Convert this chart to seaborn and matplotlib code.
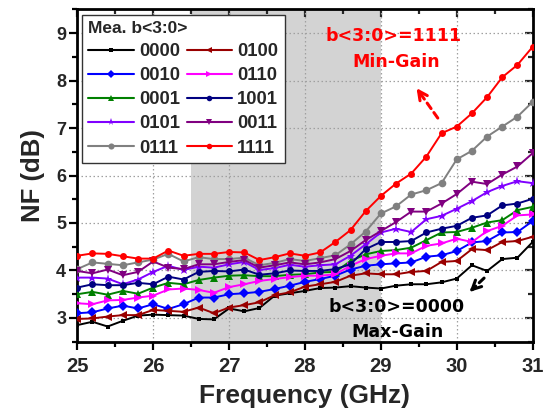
import numpy as np
import pandas as pd
import matplotlib
matplotlib.use("Agg")
import matplotlib.pyplot as plt
from matplotlib.lines import Line2D
import seaborn as sns

# Measured noise figure versus frequency for each gain code b<3:0>
freq = [25.0, 25.2, 25.4, 25.6, 25.8, 26.0, 26.2, 26.4, 26.6, 26.8,
        27.0, 27.2, 27.4, 27.6, 27.8, 28.0, 28.2, 28.4, 28.6, 28.8,
        29.0, 29.2, 29.4, 29.6, 29.8, 30.0, 30.2, 30.4, 30.6, 30.8, 31.0]

nf_0000 = [2.85, 2.92, 2.82, 2.94, 3.05, 3.07, 3.06, 3.05, 2.98, 2.97,
           3.20, 3.14, 3.21, 3.47, 3.52, 3.57, 3.63, 3.64, 3.67, 3.64,
           3.62, 3.68, 3.71, 3.71, 3.75, 3.83, 4.11, 3.99, 4.24, 4.27, 4.60]
nf_0100 = [2.98, 2.99, 3.03, 3.06, 3.06, 3.17, 3.15, 3.13, 3.22, 3.10,
           3.22, 3.27, 3.33, 3.48, 3.54, 3.66, 3.71, 3.76, 3.89, 3.94,
           3.92, 3.92, 3.97, 3.99, 4.18, 4.20, 4.45, 4.43, 4.60, 4.62, 4.71]
nf_0010 = [3.10, 3.12, 3.20, 3.26, 3.20, 3.29, 3.19, 3.29, 3.43, 3.43,
           3.50, 3.52, 3.55, 3.61, 3.68, 3.76, 3.82, 3.89, 4.02, 4.10,
           4.13, 4.15, 4.17, 4.29, 4.32, 4.41, 4.59, 4.62, 4.80, 4.81, 5.04]
nf_0110 = [3.31, 3.29, 3.37, 3.38, 3.43, 3.47, 3.60, 3.62, 3.59, 3.53,
           3.65, 3.71, 3.78, 3.82, 3.86, 3.89, 3.89, 3.92, 4.10, 4.24,
           4.31, 4.36, 4.36, 4.52, 4.57, 4.67, 4.60, 4.83, 4.94, 5.16, 5.18]
nf_0001 = [3.50, 3.55, 3.49, 3.57, 3.51, 3.64, 3.74, 3.71, 3.80, 3.85,
           3.89, 3.90, 3.88, 3.88, 3.91, 3.92, 3.96, 3.97, 4.20, 4.34,
           4.41, 4.43, 4.48, 4.64, 4.80, 4.81, 4.90, 5.01, 5.06, 5.27, 5.34]
nf_1001 = [3.64, 3.71, 3.69, 3.69, 3.74, 3.71, 3.87, 3.81, 3.97, 3.99,
           3.98, 4.02, 3.91, 3.94, 4.00, 3.99, 3.99, 4.03, 4.13, 4.45,
           4.60, 4.60, 4.62, 4.80, 4.88, 4.94, 5.11, 5.16, 5.37, 5.41, 5.51]
nf_0101 = [3.85, 3.85, 3.83, 3.71, 3.81, 3.97, 4.10, 4.01, 4.08, 4.06,
           4.13, 4.18, 4.01, 4.05, 4.12, 4.08, 4.11, 4.13, 4.31, 4.55,
           4.80, 4.88, 4.81, 5.08, 5.15, 5.30, 5.46, 5.65, 5.78, 5.88, 5.84]
nf_0011 = [3.99, 3.94, 4.02, 3.90, 3.97, 4.19, 4.06, 4.03, 4.13, 4.13,
           4.18, 4.22, 4.06, 4.11, 4.17, 4.13, 4.17, 4.24, 4.41, 4.64,
           4.83, 5.02, 5.24, 5.24, 5.41, 5.61, 5.87, 5.82, 6.02, 6.19, 6.47]
nf_0111 = [4.03, 4.17, 4.14, 4.11, 4.17, 4.23, 4.35, 4.19, 4.28, 4.24,
           4.24, 4.27, 4.11, 4.16, 4.24, 4.20, 4.26, 4.32, 4.55, 4.82,
           5.20, 5.35, 5.60, 5.69, 5.84, 6.34, 6.52, 6.82, 7.03, 7.24, 7.55]
nf_1111 = [4.31, 4.36, 4.35, 4.30, 4.25, 4.25, 4.42, 4.31, 4.35, 4.35,
           4.39, 4.38, 4.22, 4.28, 4.36, 4.31, 4.38, 4.60, 4.85, 5.25,
           5.57, 5.83, 6.04, 6.40, 6.89, 7.03, 7.31, 7.65, 8.07, 8.33, 8.71]

codes = ["0000", "0010", "0001", "0101", "0111",
         "0100", "0110", "1001", "0011", "1111"]
series = {
    "0000": nf_0000, "0100": nf_0100, "0010": nf_0010, "0110": nf_0110,
    "0001": nf_0001, "1001": nf_1001, "0101": nf_0101, "0011": nf_0011,
    "0111": nf_0111, "1111": nf_1111,
}
colors = {
    "0000": "#000000", "0100": "#990000", "0010": "#0000ff", "0110": "#ff00ff",
    "0001": "#008000", "1001": "#000080", "0101": "#8000ff", "0011": "#800080",
    "0111": "#808080", "1111": "#ff0000",
}
markers = {
    "0000": "s", "0100": "<", "0010": "D", "0110": ">", "0001": "^",
    "1001": "o", "0101": "*", "0011": "v", "0111": "o", "1111": "o",
}
msizes = {
    "0000": 3.5, "0100": 5.5, "0010": 5, "0110": 5.5, "0001": 5.5,
    "1001": 5, "0101": 6.5, "0011": 5.5, "0111": 5.5, "1111": 5,
}

df = pd.concat(
    [pd.DataFrame({"freq": freq, "nf": series[c], "code": c}) for c in codes],
    ignore_index=True,
)

sns.set_theme(style="white")
plt.rcParams["font.family"] = ["Liberation Sans", "DejaVu Sans"]
plt.rcParams["font.weight"] = "bold"

fig, ax = plt.subplots(figsize=(5.56, 4.13), dpi=100)
fig.subplots_adjust(left=0.139, right=0.958, top=0.9775, bottom=0.1726)

ax.axvspan(26.5, 29.0, color="#d3d3d3", zorder=0, lw=0)

for c in codes:
    sns.lineplot(data=df[df["code"] == c], x="freq", y="nf", ax=ax,
                 color=colors[c], marker=markers[c], markersize=msizes[c],
                 markeredgewidth=0, linewidth=1.4, legend=False, zorder=3)

ax.set_xlim(25, 31)
ax.set_ylim(2.5, 9.5)
ax.set_xticks(range(25, 32))
ax.set_yticks(range(3, 10))
ax.set_xticks(np.arange(25.5, 31, 1.0), minor=True)
ax.set_yticks(np.arange(2.5, 9.6, 1.0), minor=True)

ax.set_axisbelow(True)
ax.grid(True, which="major", color="#a0a0a0", linestyle=(0, (1.2, 2)), linewidth=0.9)

for s in ax.spines.values():
    s.set_color("black")
    s.set_linewidth(2)

ax.tick_params(which="both", direction="out", color="black", width=1.6,
               bottom=True, left=True, top=False, right=False)
ax.tick_params(which="major", length=6)
ax.tick_params(which="minor", length=3.5)
ax.tick_params(axis="x", labelsize=14.5, pad=5)
ax.tick_params(axis="y", labelsize=13, pad=2)
for lab in ax.get_xticklabels() + ax.get_yticklabels():
    lab.set_fontweight("bold")

# inward ticks on the top and right edges
sec_x = ax.secondary_xaxis("top")
sec_x.set_xticks(range(25, 32))
sec_x.set_xticks(np.arange(25.5, 31, 1.0), minor=True)
sec_x.tick_params(which="both", direction="in", width=1.6, labeltop=False)
sec_x.tick_params(which="major", length=6)
sec_x.tick_params(which="minor", length=3.5)
sec_x.spines["top"].set_visible(False)
sec_y = ax.secondary_yaxis("right")
sec_y.set_yticks(range(3, 10))
sec_y.set_yticks(np.arange(2.5, 9.6, 1.0), minor=True)
sec_y.tick_params(which="both", direction="in", width=1.6, labelright=False)
sec_y.tick_params(which="major", length=6)
sec_y.tick_params(which="minor", length=3.5)
sec_y.spines["right"].set_visible(False)

ax.set_xlabel("Frequency (GHz)", fontsize=19, fontweight="bold", labelpad=6)
ax.set_ylabel("NF (dB)", fontsize=18.5, fontweight="bold", labelpad=8)

handles = [Line2D([], [], color=colors[c], marker=markers[c],
                  markersize=msizes[c] * 0.8, markeredgewidth=0, linewidth=1.5)
           for c in codes]
leg = ax.legend(handles, codes, ncol=2, loc="upper left",
                bbox_to_anchor=(0.01, 0.983), borderaxespad=0,
                title="Mea. b<3:0>", fontsize=13.3,
                title_fontproperties={"weight": "bold", "size": 12.5},
                frameon=True, fancybox=False, framealpha=1,
                edgecolor="#333333", handlelength=2.45, handletextpad=0.3,
                columnspacing=0.35, labelspacing=0.38, borderpad=0.35)
leg._legend_box.align = "left"
leg.get_frame().set_linewidth(1.0)
for t in leg.get_texts():
    t.set_fontweight("bold")
leg.set_zorder(5)

ann_font = ["DejaVu Sans"]
ax.text(29.17, 8.94, "b<3:0>=1111", color="#ff0000", fontsize=12.5,
        fontweight="bold", family=ann_font, ha="center", va="center", zorder=6)
ax.text(29.2, 8.39, "Min-Gain", color="#ff0000", fontsize=12.5,
        fontweight="bold", family=ann_font, ha="center", va="center", zorder=6)
ax.text(29.21, 3.23, "b<3:0>=0000", color="black", fontsize=12.5,
        fontweight="bold", family=ann_font, ha="center", va="center", zorder=6)
ax.text(29.22, 2.70, "Max-Gain", color="black", fontsize=12.5,
        fontweight="bold", family=ann_font, ha="center", va="center", zorder=6)


def dashed_arrow(tip, tail, color):
    # dashed shaft with a solid open arrowhead at the tip
    ax.annotate("", xy=tip, xytext=tail,
                arrowprops=dict(arrowstyle="-", color=color, lw=2.2,
                                linestyle=(0, (2.2, 1.6)),
                                shrinkA=0, shrinkB=3), zorder=6)
    near = (tip[0] + 0.2 * (tail[0] - tip[0]), tip[1] + 0.2 * (tail[1] - tip[1]))
    ax.annotate("", xy=tip, xytext=near,
                arrowprops=dict(arrowstyle="->", color=color, lw=2.2,
                                mutation_scale=16, shrinkA=0, shrinkB=0),
                zorder=6)


dashed_arrow((29.47, 7.84), (29.75, 7.21), "#ff0000")
dashed_arrow((30.17, 3.55), (30.36, 3.84), "black")

fig.savefig("out.png", dpi=100)
